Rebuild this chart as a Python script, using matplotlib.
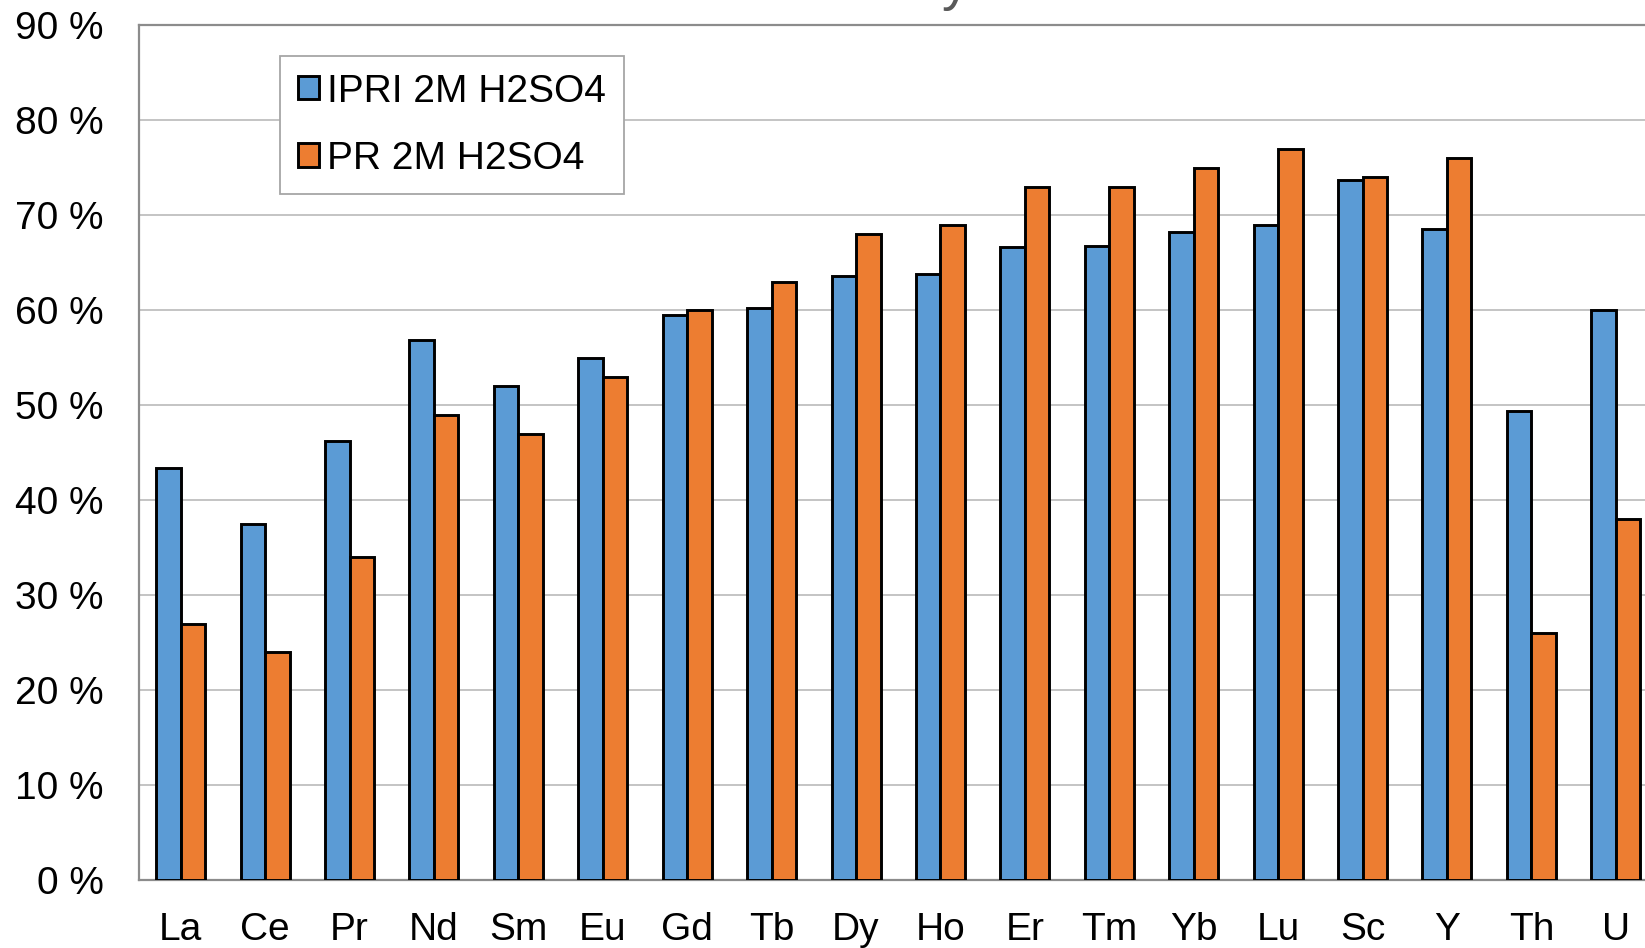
import matplotlib
matplotlib.use("Agg")
import matplotlib.pyplot as plt
import numpy as np

plt.rcParams['font.family'] = ['Liberation Sans', 'DejaVu Sans']

elements = ["La", "Ce", "Pr", "Nd", "Sm", "Eu", "Gd", "Tb", "Dy", "Ho",
            "Er", "Tm", "Yb", "Lu", "Sc", "Y", "Th", "U"]
ipri_2m_h2so4 = [43.4, 37.5, 46.2, 56.8, 52.0, 54.9, 59.5, 60.2, 63.6, 63.8,
                 66.6, 66.7, 68.2, 68.9, 73.7, 68.5, 49.4, 60.0]
pr_2m_h2so4 = [27.0, 24.0, 34.0, 49.0, 47.0, 53.0, 60.0, 63.0, 68.0, 69.0,
               73.0, 73.0, 75.0, 77.0, 74.0, 76.0, 26.0, 38.0]
series_names = ["IPRI 2M H2SO4", "PR 2M H2SO4"]
y_ticks = [0, 10, 20, 30, 40, 50, 60, 70, 80, 90]

W, H = 1645, 948
fig = plt.figure(figsize=(W / 100, H / 100), dpi=100)
# plot area runs past the right edge of the canvas
ax = fig.add_axes([138.5 / W, 1 - 880 / H, (1658 - 138.5) / W, (880 - 25) / H])

x = np.arange(len(elements))
bw = 0.29
ax.bar(x - bw / 2, ipri_2m_h2so4, width=bw, color="#5B9BD5", edgecolor="black",
       linewidth=2.1, label=series_names[0], zorder=3)
ax.bar(x + bw / 2, pr_2m_h2so4, width=bw, color="#ED7D31", edgecolor="black",
       linewidth=2.1, label=series_names[1], zorder=3)

ax.set_xlim(-0.5, len(elements) - 0.5)
ax.set_ylim(0, 90)
ax.set_yticks(y_ticks)
ax.set_yticklabels([f"{v} %" for v in y_ticks])
ax.set_xticks(x)
ax.set_xticklabels(elements)
ax.tick_params(axis="both", length=0, labelsize=28)
ax.tick_params(axis="y", pad=25)
ax.tick_params(axis="x", pad=23)

ax.yaxis.grid(True, color="#BFBFBF", linewidth=1.3, zorder=0)
ax.set_axisbelow(True)
for side in ("left", "bottom", "top"):
    ax.spines[side].set_color("#8C8C8C")
    ax.spines[side].set_linewidth(1.6)
ax.spines["right"].set_visible(False)

leg = ax.legend(loc="upper left", bbox_to_anchor=(280 / W, 1 - 56 / H),
                bbox_transform=fig.transFigure, fontsize=28, frameon=True,
                fancybox=False, framealpha=1, edgecolor="#A6A6A6",
                handlelength=0.55, handleheight=0.55, handletextpad=0.22,
                labelspacing=0.8, borderpad=0.45, borderaxespad=0)
leg.get_frame().set_linewidth(1.3)

# chart title sits above the visible canvas
fig.text(970 / W, 1 + 1 / H, "Recovery", ha="right", va="baseline",
         fontsize=40, color="#595959")

fig.savefig("out.png", dpi=100)
